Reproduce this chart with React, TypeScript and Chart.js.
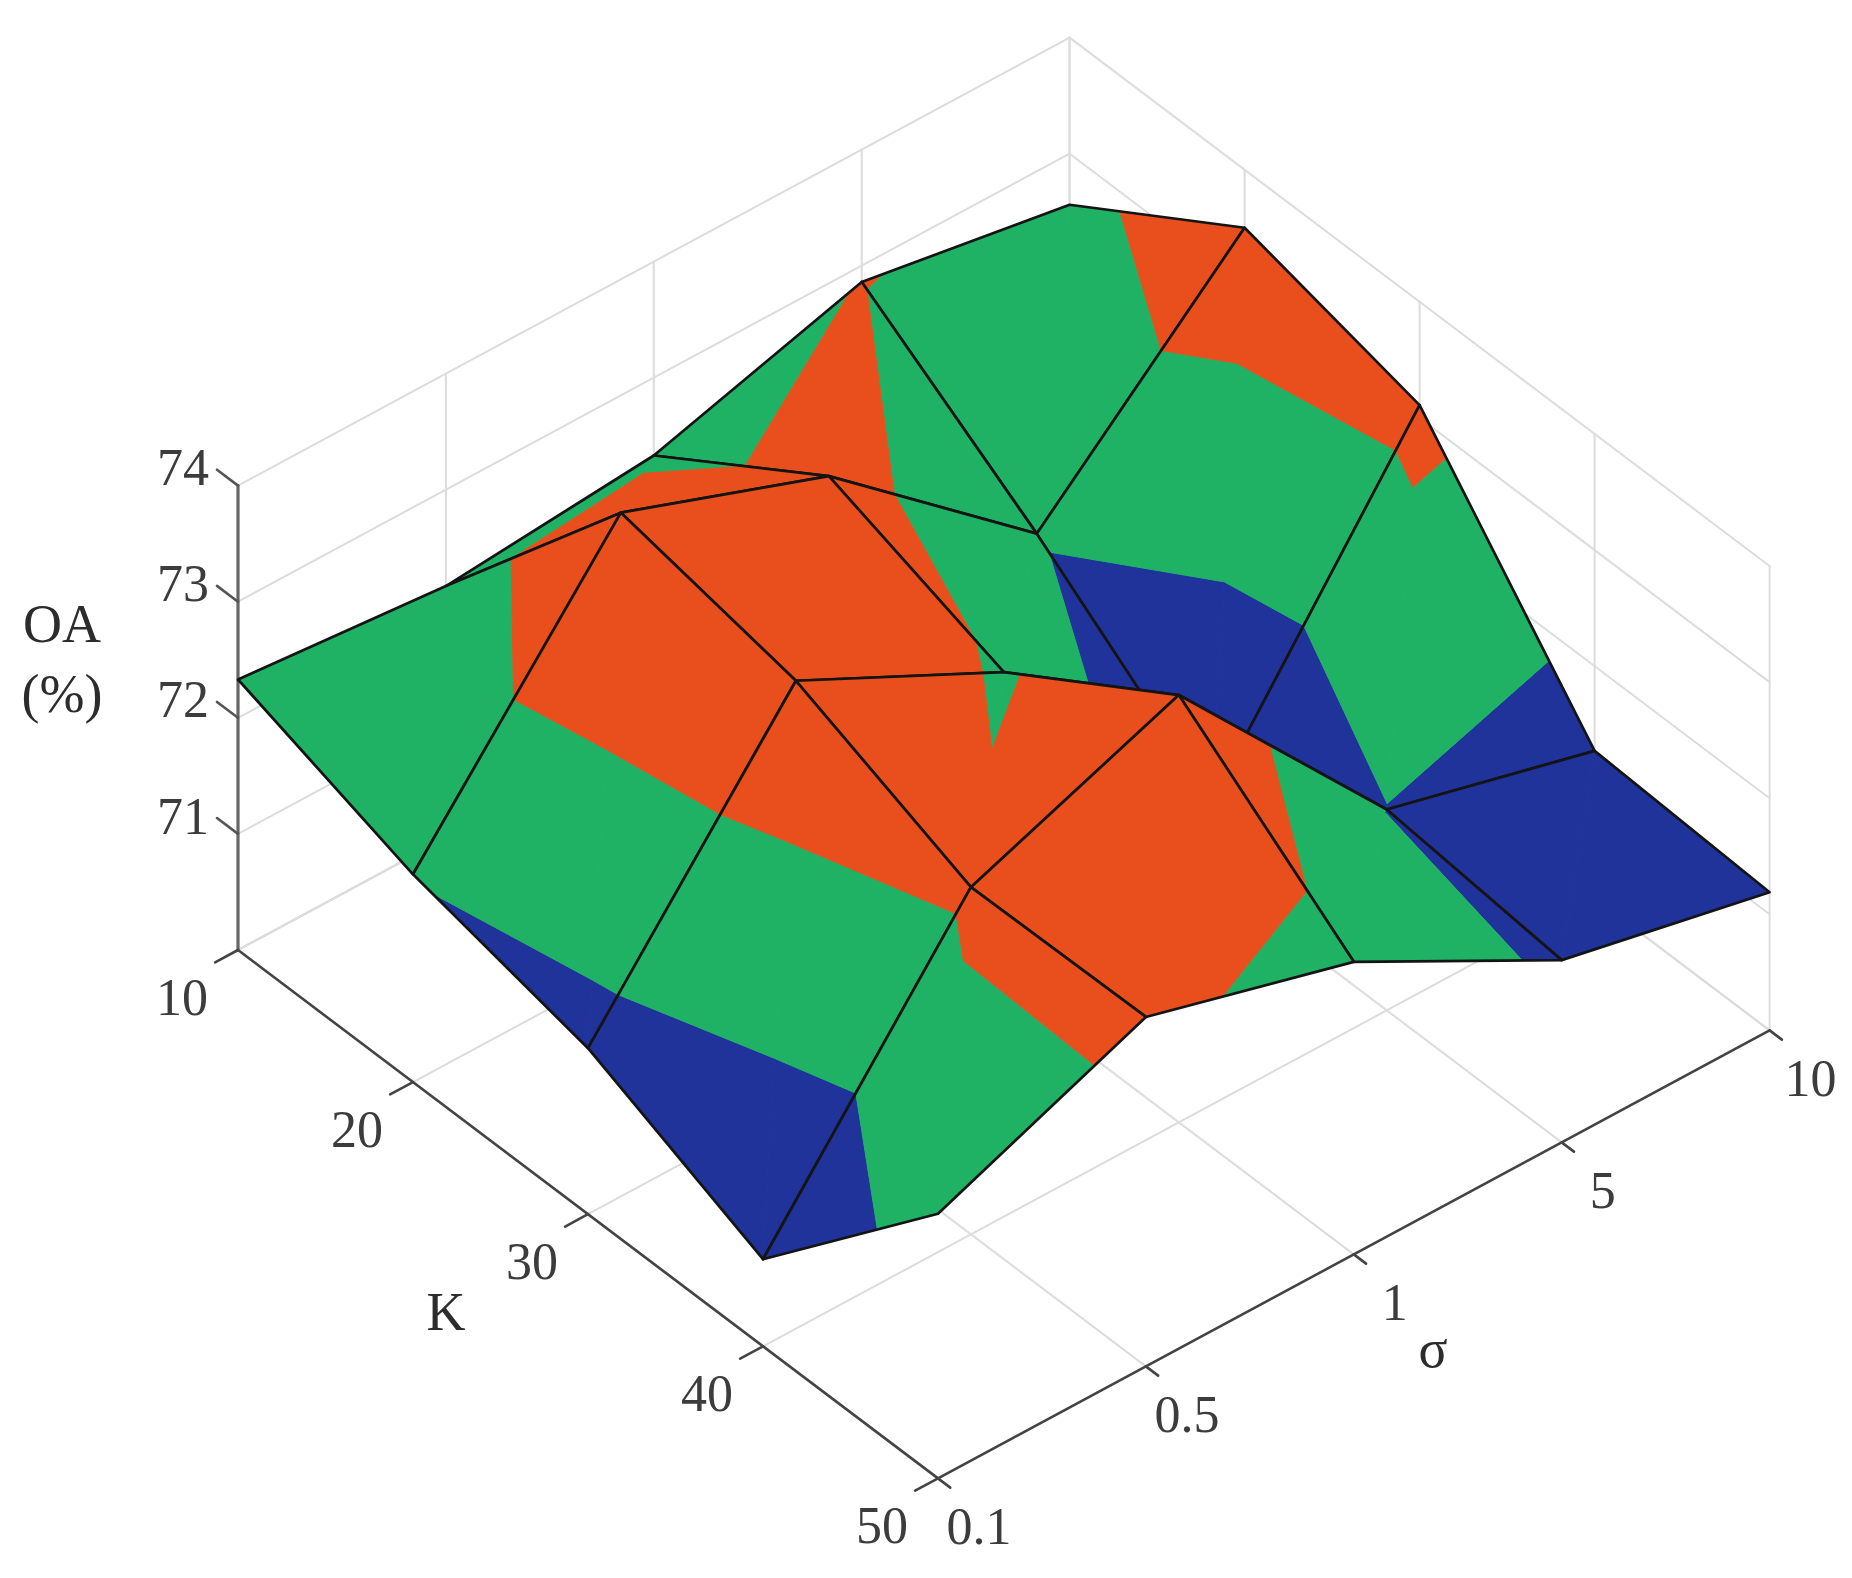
import { useEffect, useRef } from 'react';
import { Chart, registerables } from 'chart.js';

Chart.register(...registerables);

const kTicks = ['10', '20', '30', '40', '50'];
const sigmaTicks = ['0.1', '0.5', '1', '5', '10'];
const oaTicks = [70, 71, 72, 73, 74];

// OA (%) for each K, one value per sigma tick
const oaK10 = [72.33, 72.17, 72.33, 72.86, 72.56];
const oaK20 = [71.79, 73.94, 73.29, 71.83, 73.5];
const oaK30 = [71.43, 73.63, 72.74, 70.67, 73.11];
const oaK40 = [70.75, 72.99, 73.68, 71.73, 71.27];
const oaK50 = [72.28, 73.01, 72.52, 71.57, 71.19];
const oaRows = [oaK10, oaK20, oaK30, oaK40, oaK50];

// colour bands of the surface
const bandEdges = [60, 71.75, 72.83, 80];
const bandColors = ['#1f339b', '#1fb265', '#e84f1c'];

const WIDTH = 1852;
const HEIGHT = 1578;
const FONT = '"Liberation Serif"';

type P3 = { i: number; j: number; z: number };

// fixed view of the box, i = K index, j = sigma index
const project = (i: number, j: number, z: number) => ({
  x: 238 + 175 * i + 207.9 * j,
  y: 950 + 132.1 * i - 112 * j - 116.1 * (z - 70),
});

// keep the part of a polygon between two z levels
const clipAbove = (poly: P3[], level: number, sign: number) => {
  const out: P3[] = [];
  poly.forEach((a, n) => {
    const b = poly[(n + 1) % poly.length];
    const da = (a.z - level) * sign;
    const db = (b.z - level) * sign;
    if (da >= 0) out.push(a);
    if (da * db < 0) {
      const t = da / (da - db);
      out.push({ i: a.i + (b.i - a.i) * t, j: a.j + (b.j - a.j) * t, z: level });
    }
  });
  return out;
};

const line = (pts: { x: number; y: number }[], color: string, width: number) => ({
  data: pts,
  showLine: true,
  pointRadius: 0,
  borderColor: color,
  borderWidth: width,
  borderJoinStyle: 'round',
  borderCapStyle: 'round',
  tension: 0,
});

const buildDatasets = () => {
  const list: any[] = [];
  const last = kTicks.length - 1;
  const lastS = sigmaTicks.length - 1;
  const grid = '#dcdcdc';

  // floor and wall grid
  oaTicks.forEach((z) => {
    list.push(line([project(0, 0, z), project(0, lastS, z), project(last, lastS, z)], grid, 2));
  });
  sigmaTicks.forEach((_, j) => {
    list.push(line([project(last, j, 70), project(0, j, 70), project(0, j, 74)], grid, 2));
  });
  kTicks.forEach((_, i) => {
    list.push(line([project(i, 0, 70), project(i, lastS, 70), project(i, lastS, 74)], grid, 2));
  });

  // axes and tick marks
  list.push(line([project(0, 0, 70), project(0, 0, 74)], '#666666', 3.2));
  list.push(line([project(0, 0, 70), project(last, 0, 70)], '#444444', 2.6));
  list.push(line([project(last, 0, 70), project(last, lastS, 70)], '#444444', 2.6));
  oaTicks.slice(1).forEach((z) => {
    list.push(line([project(0, 0, z), project(-0.12, 0, z)], '#555555', 2.6));
  });
  kTicks.forEach((_, i) => {
    list.push(line([project(i, 0, 70), project(i, -0.11, 70)], '#444444', 2.6));
  });
  sigmaTicks.forEach((_, j) => {
    list.push(line([project(last, j, 70), project(last + 0.07, j, 70)], '#444444', 2.6));
  });

  // surface, painted from the back corner to the front corner
  for (let i = 0; i < last; i++) {
    for (let j = lastS - 1; j >= 0; j--) {
      const c = (a: number, b: number): P3 => ({ i: a, j: b, z: oaRows[a][b] });
      const tris = [
        [c(i, j), c(i, j + 1), c(i + 1, j)],
        [c(i, j + 1), c(i + 1, j + 1), c(i + 1, j)],
      ];
      tris.forEach((tri) => {
        bandColors.forEach((color, b) => {
          const part = clipAbove(clipAbove(tri, bandEdges[b], 1), bandEdges[b + 1], -1);
          if (part.length < 3) return;
          const pts = part.map((p) => project(p.i, p.j, p.z));
          list.push({ ...line([...pts, pts[0]], color, 1), polyFill: color });
        });
      });
      const outline = [c(i, j), c(i, j + 1), c(i + 1, j + 1), c(i + 1, j), c(i, j)];
      list.push(line(outline.map((p) => project(p.i, p.j, p.z)), '#141414', 2.7));
    }
  }
  // chart.js draws the highest order first
  return list.map((d, n) => ({ ...d, order: list.length - n }));
};

const polygonFill = {
  id: 'polygonFill',
  beforeDatasetDraw(chart: any, args: any) {
    const color = chart.data.datasets[args.index].polyFill;
    if (!color) return;
    const { ctx } = chart;
    ctx.save();
    ctx.fillStyle = color;
    ctx.beginPath();
    args.meta.data.forEach((pt: any, n: number) => {
      if (n === 0) ctx.moveTo(pt.x, pt.y);
      else ctx.lineTo(pt.x, pt.y);
    });
    ctx.closePath();
    ctx.fill();
    ctx.restore();
  },
};

const axisText = {
  id: 'axisText',
  afterDraw(chart: any) {
    const { ctx, scales } = chart;
    const put = (text: string, x: number, y: number, size: number, color: string) => {
      ctx.font = `${size}px ${FONT}`;
      ctx.fillStyle = color;
      ctx.fillText(text, scales.x.getPixelForValue(x), scales.y.getPixelForValue(y));
    };
    ctx.save();
    ctx.textAlign = 'center';
    ctx.textBaseline = 'middle';
    const tickColor = '#3c3c3c';
    oaTicks.slice(1).forEach((z) => {
      const p = project(0, 0, z);
      put(String(z), p.x - 55, p.y - 14, 52, tickColor);
    });
    kTicks.forEach((label, i) => {
      const p = project(i, 0, 70);
      put(label, p.x - 56, p.y + 51, 52, tickColor);
    });
    sigmaTicks.forEach((label, j) => {
      const p = project(4, j, 70);
      put(label, p.x + 41, p.y + 52, 52, tickColor);
    });
    put('OA', 62, 628, 54, '#2c2c2c');
    put('(%)', 62, 698, 54, '#2c2c2c');
    put('K', 446, 1316, 54, '#2c2c2c');
    put('σ', 1433, 1353, 54, '#2c2c2c');
    ctx.restore();
  },
};

export default function App() {
  const canvasRef = useRef<HTMLCanvasElement | null>(null);

  useEffect(() => {
    if (!canvasRef.current) return;
    const chart = new Chart(canvasRef.current, {
      type: 'scatter',
      data: { datasets: buildDatasets() },
      options: {
        responsive: false,
        animation: false,
        layout: { padding: 0 },
        plugins: { legend: { display: false }, tooltip: { enabled: false } },
        scales: {
          x: { type: 'linear', display: false, min: 0, max: WIDTH },
          y: { type: 'linear', display: false, min: 0, max: HEIGHT, reverse: true },
        },
      },
      plugins: [polygonFill, axisText],
    } as any);
    return () => chart.destroy();
  }, []);

  return (
    <div style={{ position: 'absolute', left: 0, top: 0 }}>
      <canvas ref={canvasRef} width={WIDTH} height={HEIGHT} style={{ display: 'block' }} />
    </div>
  );
}
